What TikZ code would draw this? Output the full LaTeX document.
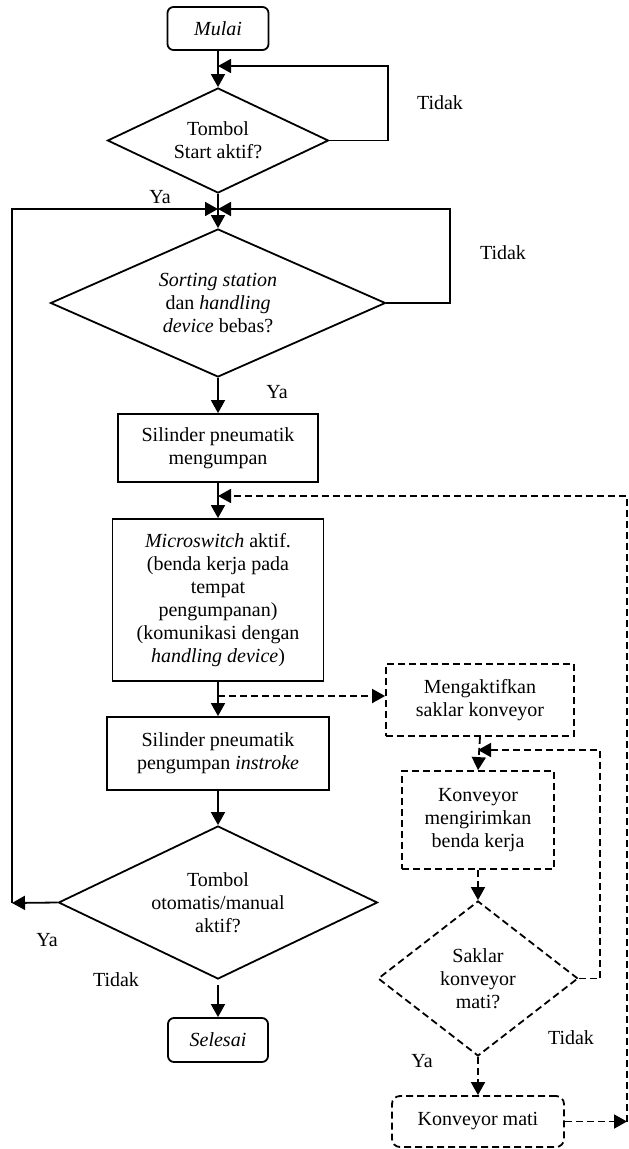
\documentclass[tikz,border=0pt]{standalone}
\usepackage{fontspec}
\setmainfont{Liberation Serif}
\usetikzlibrary{arrows.meta,shapes.geometric}
\begin{document}
\begin{tikzpicture}[x=1pt,y=-1pt,
  every node/.style={font=\fontsize{20}{23}\selectfont, align=center, inner sep=0pt},
  ln/.style={line width=1.8pt},
  arr/.style={ln, -{Triangle[length=13pt,width=14pt]}},
  dsh/.style={dash pattern=on 7pt off 4pt},
  pbox/.style={draw, ln, rectangle},
  term/.style={draw, ln, rectangle, rounded corners=6pt},
  dec/.style={draw, ln, diamond},
  lbl/.style={}
]
\useasboundingbox (0,0) rectangle (629,1149);

% main column
\node[term, minimum width=101pt, minimum height=43pt] (mulai) at (218,28.5) {\textit{Mulai}};
\node[dec, minimum width=221pt, minimum height=105pt, aspect=2.1] (d1) at (218,140.5) {Tombol\\Start aktif?};
\node[dec, minimum width=335pt, minimum height=148pt, aspect=2.26] (d2) at (218,303) {\textit{Sorting station}\\dan \textit{handling}\\\textit{device} bebas?};
\node[pbox, minimum width=200pt, minimum height=68pt] (b1) at (218,448) {Silinder pneumatik\\mengumpan};
\node[pbox, minimum width=211pt, minimum height=162pt] (b2) at (218,600) {\textit{Microswitch} aktif.\\(benda kerja pada\\tempat\\pengumpanan)\\(komunikasi dengan\\\textit{handling device})};
\node[pbox, minimum width=222pt, minimum height=73pt] (b3) at (218,753.5) {Silinder pneumatik\\pengumpan \textit{instroke}};
\node[dec, minimum width=319pt, minimum height=153pt, aspect=2.08] (d3) at (218,902.5) {Tombol\\otomatis/manual\\aktif?};
\node[term, minimum width=100pt, minimum height=44pt] (sel) at (218,1040) {\textit{Selesai}};

% right column (dashed)
\node[pbox, dsh, minimum width=188pt, minimum height=72pt] (meng) at (480,700) {Mengaktifkan\\saklar konveyor};
\node[pbox, dsh, minimum width=152pt, minimum height=98pt] (konv) at (478,820) {Konveyor\\mengirimkan\\benda kerja};
\node[dec, dsh, minimum width=200pt, minimum height=155pt, aspect=1.29] (d4) at (478,978.5) {Saklar\\konveyor\\mati?};
\node[term, dsh, rounded corners=8pt, minimum width=172pt, minimum height=51pt] (km) at (478,1121.5) {Konveyor mati};

% junction coordinates
\coordinate (j1) at (218,66);
\coordinate (j2) at (218,209);
\coordinate (j3) at (218,496);
\coordinate (j4) at (218,696);
\coordinate (j5) at (478,750);
\coordinate (r1) at (388,66);
\coordinate (r2) at (450,209);
\coordinate (l1) at (12,903);
\coordinate (l2) at (12,209);
\coordinate (rr) at (627,1121.5);
\coordinate (rt) at (627,496);
\coordinate (r5) at (600,750);

% solid connectors
\draw[arr] (mulai.south) -- (d1.north);
\draw[arr] (d1.east) -| (r1) -- (j1);
\draw[arr] (d1.south) -- (d2.north);
\draw[arr] (d2.east) -| (r2) -- (j2);
\draw[arr] (d3.west) -- (l1);
\draw[arr] (l1) -- (l2) -- (j2);
\draw[arr] (d2.south) -- (b1.north);
\draw[arr] (b1.south) -- (b2.north);
\draw[arr] (b2.south) -- (b3.north);
\draw[arr] (b3.south) -- (d3.north);
\draw[arr, shorten <=5pt] (d3.south) -- (sel.north);

% dashed connectors
\draw[arr, dsh] (j4) -- (j4 -| meng.west);
\draw[arr, dsh] (meng.south) -- (konv.north);
\draw[arr, dsh] (konv.south) -- (d4.north);
\draw[arr, dsh] (d4.south) -- (km.north);
\draw[arr, dsh] (d4.east) -| (r5) -- (j5);
\draw[arr, dsh] (km.east) -- (rr);
\draw[arr, dsh] (rr) -- (rt) -- (j3);

% labels
\node[lbl] (t1) at (440,103) {Tidak};
\node[lbl] (t2) at (503,253) {Tidak};
\node[lbl] (y1) at (160,197) {Ya};
\node[lbl] (y2) at (277,392) {Ya};
\node[lbl] (y3) at (47,940) {Ya};
\node[lbl] (t3) at (116,980) {Tidak};
\node[lbl] (t4) at (571,1038) {Tidak};
\node[lbl] (y4) at (422,1061) {Ya};
\end{tikzpicture}
\end{document}
